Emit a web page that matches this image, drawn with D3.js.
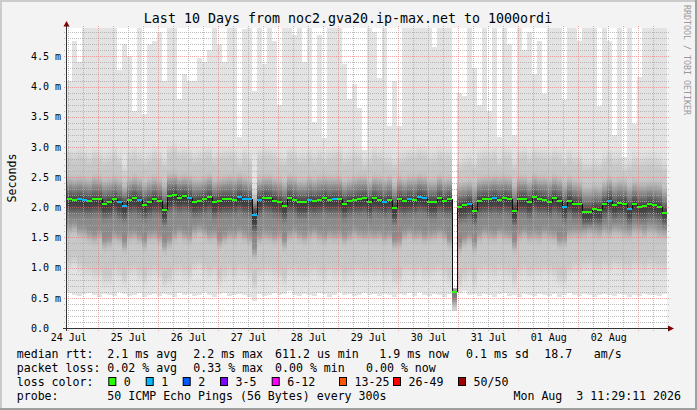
<!DOCTYPE html>
<html>
<head>
<meta charset="utf-8">
<script src="https://cdn.jsdelivr.net/npm/d3@7"></script>
<style>
  html, body { margin: 0; padding: 0; background: #f3f3f3; }
  svg { display: block; font-family: 'DejaVu Sans Mono', monospace; }
  text { white-space: pre; }
</style>
</head>
<body>
<svg id="chart" width="697" height="410"></svg>
<script>
'use strict';
// last 10 days, one column every 2 hours
const START = new Date(2026, 6, 24, 11, 29, 11);
const END = new Date(2026, 7, 3, 11, 29, 11);
const STEP = 2 * 3600 * 1000;
const Y_TOP = 4.97;

const TITLE = 'Last 10 Days from noc2.gva20.ip-max.net to 1000ordi';
const DAY_LABELS = ['24 Jul', '25 Jul', '26 Jul', '27 Jul', '28 Jul', '29 Jul', '30 Jul', '31 Jul', '01 Aug', '02 Aug'];
const Y_TICKS = [0, 0.5, 1, 1.5, 2, 2.5, 3, 3.5, 4, 4.5];
const Y_TICK_LABELS = ['0.0', '0.5 m', '1.0 m', '1.5 m', '2.0 m', '2.5 m', '3.0 m', '3.5 m', '4.0 m', '4.5 m'];

// median rtt (ms)
const MEDIAN = [
  2.13, 2.12, 2.13, 2.12, 2.10, 2.14, 2.13, 2.06, 2.09, 2.14, 2.09, 2.02,
  2.12, 2.15, 2.12, 2.04, 2.09, 2.14, 2.10, 1.95, 2.19, 2.21, 2.16, 2.18,
  2.15, 2.09, 2.10, 2.14, 2.17, 2.08, 2.11, 2.13, 2.14, 2.12, 2.17, 2.14,
  2.13, 1.88, 2.12, 2.16, 2.15, 2.11, 2.09, 2.02, 2.15, 2.12, 2.08, 2.08,
  2.12, 2.10, 2.12, 2.15, 2.12, 2.13, 2.13, 2.05, 2.10, 2.12, 2.14, 2.15,
  2.08, 2.15, 2.12, 2.09, 2.12, 1.99, 2.14, 2.10, 2.13, 2.12, 2.17, 2.15,
  2.08, 2.08, 2.15, 2.10, 2.13, 0.60, 2.01, 2.03, 2.06, 1.94, 2.11, 2.14,
  2.13, 2.15, 2.12, 2.15, 2.14, 1.94, 2.14, 2.14, 2.08, 2.17, 2.14, 2.12,
  2.09, 2.15, 2.11, 2.00, 2.11, 2.06, 2.05, 1.93, 1.93, 1.97, 1.95, 2.05,
  2.11, 2.04, 2.07, 2.06, 1.97, 2.06, 2.01, 2.02, 2.05, 2.04, 2.01, 1.91
];
// lost pings per column
const LOSS = [
  0, 0, 1, 1, 0, 0, 0, 0, 0, 0, 1, 1,
  0, 0, 1, 0, 0, 0, 0, 0, 0, 0, 0, 0,
  1, 0, 0, 0, 0, 0, 0, 0, 0, 0, 1, 1,
  1, 1, 1, 0, 0, 0, 0, 0, 0, 0, 0, 0,
  1, 0, 0, 0, 0, 1, 0, 0, 0, 0, 0, 0,
  0, 0, 0, 1, 0, 0, 0, 0, 1, 0, 1, 1,
  0, 0, 0, 0, 0, 0, 0, 0, 1, 0, 0, 0,
  0, 1, 0, 0, 0, 0, 0, 0, 0, 0, 0, 0,
  0, 0, 0, 1, 0, 0, 0, 0, 0, 0, 0, 0,
  1, 0, 0, 0, 1, 0, 0, 0, 0, 0, 0, 0
];
// smoke: fastest and slowest ping per column (ms)
const PING_MIN = [
  0.58, 0.55, 0.53, 0.56, 0.58, 0.54, 0.52, 0.57, 0.55, 0.53, 0.59, 0.56,
  0.53, 0.55, 0.58, 0.52, 0.54, 0.56, 0.53, 0.57, 0.55, 0.52, 0.58, 0.54,
  0.56, 0.53, 0.55, 0.59, 0.54, 0.52, 0.56, 0.58, 0.53, 0.55, 0.57, 0.54,
  0.52, 0.45, 0.56, 0.53, 0.55, 0.58, 0.54, 0.56, 0.61, 0.55, 0.53, 0.57,
  0.55, 0.53, 0.58, 0.56, 0.52, 0.55, 0.59, 0.54, 0.56, 0.53, 0.55, 0.58,
  0.54, 0.56, 0.53, 0.57, 0.55, 0.52, 0.56, 0.54, 0.58, 0.53, 0.59, 0.55,
  0.53, 0.56, 0.54, 0.52, 0.57, 0.28, 0.58, 0.61, 0.55, 0.57, 0.53, 0.56,
  0.54, 0.52, 0.56, 0.58, 0.53, 0.55, 0.51, 0.56, 0.54, 0.53, 0.57, 0.55,
  0.53, 0.56, 0.52, 0.55, 0.58, 0.54, 0.53, 0.56, 0.55, 0.52, 0.54, 0.57,
  0.55, 0.53, 0.56, 0.54, 0.52, 0.55, 0.53, 0.56, 0.54, 0.55, 0.53, 0.56
];
const PING_MAX = [
  4.10, 4.75, 4.40, 5, 5, 5, 5, 5, 5, 5, 4.27, 4.70,
  4.50, 3.60, 5, 3.55, 4.70, 4.75, 4.90, 4.10, 5, 5, 3.80, 4.20,
  4.10, 4.10, 4.48, 4.40, 4.60, 5, 4.70, 4.40, 5, 5, 3.16, 4.95,
  5, 3.93, 5, 4.38, 5, 4.75, 3.70, 5, 5, 4.85, 5, 4.40,
  5, 3.42, 4.85, 3.15, 5, 5, 5, 4.38, 3.80, 4.05, 3.65, 2.95,
  5, 4.90, 4.14, 5, 3.35, 4.10, 3.35, 5, 5, 5, 5, 5,
  5, 4.65, 5, 5, 5, 0.66, 3.90, 3.85, 5, 4.30, 3.70, 5,
  3.60, 5, 3.16, 5, 4.70, 3.20, 5, 4.60, 4.90, 4.20, 4.75, 3.88,
  5, 5, 5, 3.77, 5, 5, 4.75, 5, 5, 5, 3.68, 5,
  4.75, 3.20, 5, 2.83, 5, 3.38, 4.15, 5, 5, 5, 5, 5
];
// smoke: inner percentiles per column (ms)
const P08 = [
  1.05, 1.10, 1.00, 0.95, 0.92, 0.88, 0.90, 0.80, 0.82, 0.95, 0.90, 0.78,
  0.92, 0.95, 0.88, 0.80, 0.90, 0.93, 0.88, 0.75, 0.80, 0.92, 0.95, 0.90,
  0.88, 1.00, 1.02, 0.95, 0.90, 0.92, 0.80, 0.88, 0.93, 0.90, 0.95, 0.92,
  0.88, 0.70, 0.90, 0.95, 0.92, 0.90, 0.88, 0.78, 0.92, 0.95, 0.90, 0.88,
  0.92, 0.95, 0.90, 0.88, 0.93, 0.90, 0.92, 0.85, 0.90, 0.95, 0.92, 0.90,
  0.93, 0.90, 0.92, 0.88, 0.90, 0.80, 0.82, 0.92, 0.95, 0.90, 0.92, 0.88,
  0.90, 0.92, 0.95, 0.90, 0.82, 0.33, 0.75, 0.85, 0.90, 0.78, 0.92, 0.95,
  0.92, 0.90, 0.95, 0.92, 0.90, 0.76, 0.92, 0.95, 0.90, 0.93, 0.92, 0.95,
  0.92, 0.90, 0.82, 0.80, 0.95, 1.00, 0.98, 1.02, 1.05, 1.00, 0.98, 1.02,
  1.00, 1.05, 1.02, 1.00, 0.98, 1.05, 1.02, 1.00, 1.05, 1.02, 1.00, 0.98
];
const P25 = [
  1.62, 1.65, 1.58, 1.55, 1.50, 1.48, 1.52, 1.38, 1.40, 1.50, 1.48, 1.35,
  1.50, 1.52, 1.48, 1.38, 1.50, 1.52, 1.48, 1.32, 1.40, 1.50, 1.55, 1.50,
  1.48, 1.58, 1.60, 1.55, 1.50, 1.52, 1.40, 1.48, 1.52, 1.50, 1.55, 1.50,
  1.45, 1.22, 1.48, 1.52, 1.50, 1.48, 1.50, 1.38, 1.52, 1.55, 1.50, 1.48,
  1.52, 1.55, 1.50, 1.48, 1.52, 1.50, 1.52, 1.45, 1.50, 1.55, 1.52, 1.50,
  1.52, 1.50, 1.52, 1.48, 1.50, 1.38, 1.40, 1.52, 1.55, 1.50, 1.52, 1.48,
  1.50, 1.52, 1.55, 1.50, 1.40, 0.42, 1.32, 1.42, 1.48, 1.35, 1.50, 1.55,
  1.52, 1.50, 1.55, 1.52, 1.50, 1.35, 1.52, 1.55, 1.50, 1.52, 1.50, 1.55,
  1.52, 1.50, 1.40, 1.42, 1.55, 1.58, 1.56, 1.58, 1.60, 1.58, 1.56, 1.60,
  1.58, 1.62, 1.60, 1.58, 1.56, 1.62, 1.60, 1.58, 1.62, 1.60, 1.58, 1.55
];
const P42 = [
  1.92, 1.92, 1.93, 1.91, 1.90, 1.93, 1.92, 1.86, 1.88, 1.93, 1.88, 1.82,
  1.92, 1.94, 1.91, 1.84, 1.89, 1.93, 1.90, 1.76, 1.95, 1.98, 1.95, 1.97,
  1.94, 1.89, 1.90, 1.93, 1.96, 1.88, 1.90, 1.92, 1.93, 1.92, 1.96, 1.93,
  1.90, 1.62, 1.90, 1.95, 1.94, 1.91, 1.89, 1.82, 1.94, 1.92, 1.88, 1.88,
  1.92, 1.90, 1.92, 1.94, 1.92, 1.92, 1.92, 1.85, 1.90, 1.92, 1.93, 1.94,
  1.88, 1.94, 1.92, 1.89, 1.92, 1.78, 1.92, 1.90, 1.92, 1.92, 1.96, 1.94,
  1.88, 1.88, 1.94, 1.90, 1.90, 0.52, 1.80, 1.83, 1.86, 1.76, 1.91, 1.93,
  1.92, 1.94, 1.92, 1.94, 1.93, 1.74, 1.93, 1.93, 1.88, 1.96, 1.93, 1.92,
  1.89, 1.94, 1.90, 1.80, 1.91, 1.86, 1.85, 1.74, 1.74, 1.78, 1.76, 1.85,
  1.91, 1.84, 1.87, 1.86, 1.78, 1.86, 1.82, 1.83, 1.85, 1.84, 1.82, 1.74
];
const P58 = [
  2.25, 2.24, 2.25, 2.24, 2.22, 2.26, 2.25, 2.19, 2.21, 2.26, 2.21, 2.15,
  2.24, 2.27, 2.24, 2.17, 2.21, 2.26, 2.22, 2.10, 2.31, 2.33, 2.28, 2.30,
  2.27, 2.21, 2.22, 2.26, 2.29, 2.20, 2.23, 2.25, 2.26, 2.24, 2.29, 2.26,
  2.24, 2.02, 2.24, 2.28, 2.27, 2.23, 2.21, 2.15, 2.27, 2.24, 2.20, 2.20,
  2.24, 2.22, 2.24, 2.27, 2.24, 2.25, 2.25, 2.18, 2.22, 2.24, 2.26, 2.27,
  2.20, 2.27, 2.24, 2.21, 2.24, 2.12, 2.26, 2.22, 2.25, 2.24, 2.29, 2.27,
  2.20, 2.20, 2.27, 2.22, 2.25, 0.62, 2.14, 2.16, 2.18, 2.08, 2.23, 2.26,
  2.25, 2.27, 2.24, 2.27, 2.26, 2.08, 2.26, 2.26, 2.20, 2.29, 2.26, 2.24,
  2.21, 2.27, 2.23, 2.13, 2.23, 2.18, 2.17, 2.06, 2.06, 2.10, 2.08, 2.17,
  2.23, 2.16, 2.19, 2.18, 2.10, 2.18, 2.13, 2.14, 2.17, 2.16, 2.13, 2.04
];
const P75 = [
  2.44, 2.42, 2.44, 2.42, 2.40, 2.45, 2.43, 2.38, 2.40, 2.44, 2.40, 2.30,
  2.42, 2.45, 2.42, 2.36, 2.40, 2.44, 2.41, 2.32, 2.48, 2.50, 2.46, 2.47,
  2.45, 2.40, 2.41, 2.44, 2.47, 2.39, 2.42, 2.44, 2.45, 2.43, 2.47, 2.44,
  2.40, 2.10, 2.42, 2.46, 2.45, 2.42, 2.40, 2.35, 2.45, 2.43, 2.39, 2.39,
  2.43, 2.41, 2.43, 2.45, 2.43, 2.44, 2.44, 2.37, 2.41, 2.43, 2.45, 2.46,
  2.39, 2.45, 2.43, 2.40, 2.43, 2.32, 2.44, 2.41, 2.44, 2.43, 2.47, 2.45,
  2.39, 2.39, 2.45, 2.41, 2.42, 0.64, 2.33, 2.35, 2.37, 2.30, 2.42, 2.44,
  2.44, 2.45, 2.43, 2.45, 2.44, 2.30, 2.44, 2.44, 2.39, 2.47, 2.44, 2.43,
  2.40, 2.45, 2.42, 2.33, 2.42, 2.37, 2.36, 2.27, 2.27, 2.30, 2.28, 2.36,
  2.42, 2.35, 2.38, 2.37, 2.30, 2.37, 2.33, 2.34, 2.36, 2.35, 2.33, 2.26
];
const P92 = [
  2.88, 2.85, 2.90, 2.86, 2.82, 2.88, 2.85, 2.80, 2.84, 2.90, 2.82, 2.62,
  2.86, 2.90, 2.85, 2.78, 2.84, 2.90, 2.85, 2.75, 2.95, 2.98, 2.90, 2.92,
  2.88, 2.82, 2.85, 2.90, 2.92, 2.82, 2.86, 2.88, 2.90, 2.86, 2.78, 2.88,
  2.82, 2.25, 2.86, 2.92, 2.90, 2.86, 2.80, 2.78, 2.90, 2.88, 2.82, 2.84,
  2.88, 2.82, 2.88, 2.80, 2.86, 2.88, 2.90, 2.80, 2.84, 2.88, 2.86, 2.75,
  2.82, 2.90, 2.86, 2.82, 2.80, 2.74, 2.82, 2.85, 2.88, 2.86, 2.92, 2.90,
  2.82, 2.84, 2.90, 2.85, 2.86, 0.65, 2.72, 2.76, 2.80, 2.72, 2.85, 2.88,
  2.85, 2.90, 2.78, 2.90, 2.88, 2.72, 2.88, 2.90, 2.84, 2.92, 2.88, 2.86,
  2.84, 2.90, 2.86, 2.76, 2.86, 2.80, 2.80, 2.70, 2.70, 2.74, 2.72, 2.80,
  2.86, 2.78, 2.82, 2.65, 2.74, 2.80, 2.76, 2.78, 2.80, 2.78, 2.76, 2.70
];

const LOSS_LABELS = ['0', '1', '2', '3-5', '6-12', '13-25', '26-49', '50/50'];
const LOSS_COLORS = ['#26ff00', '#00b8ff', '#0059ff', '#7e00ff', '#ff00ff', '#ff5500', '#ff0000', '#a10000'];

const RTT_LEGEND = ['median rtt:', '2.1 ms avg', '2.2 ms max', '611.2 us min', '1.9 ms now', '0.1 ms sd', '18.7', 'am/s'];
const LOSS_LEGEND = ['packet loss:', '0.02 % avg', '0.33 % max', '0.00 % min', '0.00 % now'];
const PROBE_LEGEND = ['probe:', '50 ICMP Echo Pings (56 Bytes) every 300s'];
const STAMP = 'Mon Aug  3 11:29:11 2026';

const SMOKE_OUTER = '#e3e3e3';
const SMOKE_SHADES = ['#c8c8c8', '#8a8a8a', '#3a3a3a'];
const MONO = 'DejaVu Sans Mono';

document.addEventListener('DOMContentLoaded', drawChart, false);

function drawChart() {
  let svg = d3.select('#chart');
  let x = d3.scaleTime().domain([START, END]).range([67, 667]);
  let y = d3.scaleLinear().domain([0, Y_TOP]).range([328, 28]);
  let colX = (i) => x(new Date(START.getTime() + i * STEP));
  let colW = (i) => colX(i + 1) - colX(i);
  let yc = (v) => y(Math.min(v, Y_TOP));

  // frame
  svg.append('rect').attr('width', 697).attr('height', 410).attr('fill', '#f3f3f3');
  svg.append('rect').attr('width', 697).attr('height', 2).attr('fill', '#cbcbcb');
  svg.append('rect').attr('width', 2).attr('height', 410).attr('fill', '#cbcbcb');
  svg.append('rect').attr('y', 408).attr('width', 697).attr('height', 2).attr('fill', '#9f9f9f');
  svg.append('rect').attr('x', 695).attr('width', 2).attr('height', 410).attr('fill', '#9f9f9f');
  svg.append('rect')
    .attr('x', 67).attr('y', 28).attr('width', 600).attr('height', 300)
    .attr('fill', '#ffffff');

  let defs = svg.append('defs');
  defs.append('filter')
    .attr('id', 'vblur')
    .attr('x', 0).attr('y', -0.2).attr('width', 1).attr('height', 1.4)
    .append('feGaussianBlur')
    .attr('stdDeviation', '0 5');
  defs.append('clipPath')
    .attr('id', 'smokeclip')
    .selectAll('rect')
    .data(MEDIAN)
    .join('rect')
    .attr('x', (d, i) => colX(i))
    .attr('width', (d, i) => colW(i))
    .attr('y', (d, i) => yc(PING_MAX[i]))
    .attr('height', (d, i) => y(PING_MIN[i]) - yc(PING_MAX[i]));

  // smoke, outer range
  svg.append('g')
    .attr('shape-rendering', 'crispEdges')
    .selectAll('rect')
    .data(MEDIAN)
    .join('rect')
    .attr('x', (d, i) => colX(i))
    .attr('width', (d, i) => colW(i))
    .attr('y', (d, i) => yc(PING_MAX[i]))
    .attr('height', (d, i) => y(PING_MIN[i]) - yc(PING_MAX[i]))
    .attr('fill', SMOKE_OUTER);

  // smoke, inner percentile bands
  let bands = [[P08, P92], [P25, P75], [P42, P58]];
  let inner = svg.append('g')
    .attr('clip-path', 'url(#smokeclip)')
    .append('g')
    .attr('filter', 'url(#vblur)');
  bands.forEach(([lo, hi], k) => {
    inner.append('g')
      .attr('shape-rendering', 'crispEdges')
      .selectAll('rect')
      .data(MEDIAN)
      .join('rect')
      .attr('x', (d, i) => colX(i))
      .attr('width', (d, i) => colW(i))
      .attr('y', (d, i) => yc(hi[i]))
      .attr('height', (d, i) => y(lo[i]) - yc(hi[i]))
      .attr('fill', SMOKE_SHADES[k]);
  });

  // grid
  let grid = svg.append('g').attr('shape-rendering', 'crispEdges');
  let px = (v) => Math.round(v) + 0.5;
  let midnights = d3.timeDay.range(START, END);
  let sixHours = d3.timeHour.every(6).range(START, END)
    .filter((d) => d.getHours() !== 0);
  let minorY = d3.range(1, 50).filter((k) => k % 5 !== 0).map((k) => k / 10);
  let majorY = Y_TICKS.filter((v) => v > 0);
  let gridStyle = [
    { xs: sixHours, ys: minorY, color: 'rgba(170,170,170,0.8)' },
    { xs: midnights, ys: majorY, color: 'rgba(235,110,110,0.6)' },
  ];
  gridStyle.forEach((s) => {
    grid.append('g').selectAll('line')
      .data(s.ys)
      .join('line')
      .attr('x1', 64).attr('x2', 670)
      .attr('y1', (d) => px(y(d))).attr('y2', (d) => px(y(d)))
      .attr('stroke', s.color)
      .attr('stroke-dasharray', '1,1');
    grid.append('g').selectAll('line')
      .data(s.xs)
      .join('line')
      .attr('x1', (d) => px(x(d))).attr('x2', (d) => px(x(d)))
      .attr('y1', 331).attr('y2', 26)
      .attr('stroke', s.color)
      .attr('stroke-dasharray', '1,1');
  });

  // median line
  let med = svg.append('g');
  med.append('g')
    .selectAll('line')
    .data(MEDIAN.slice(1))
    .join('line')
    .attr('x1', (d, i) => Math.round(colX(i + 1)) + 0.5)
    .attr('x2', (d, i) => Math.round(colX(i + 1)) + 0.5)
    .attr('y1', (d, i) => Math.round(y(MEDIAN[i])))
    .attr('y2', (d) => Math.round(y(d)))
    .attr('stroke', '#111')
    .attr('stroke-width', 1);
  med.append('g')
    .attr('shape-rendering', 'crispEdges')
    .selectAll('rect')
    .data(MEDIAN)
    .join('rect')
    .attr('x', (d, i) => colX(i))
    .attr('width', (d, i) => colW(i))
    .attr('y', (d) => Math.round(y(d)) - 1)
    .attr('height', 2)
    .attr('fill', (d, i) => LOSS_COLORS[LOSS[i]]);

  // axes
  svg.append('line')
    .attr('x1', 66.5).attr('x2', 66.5).attr('y1', 331).attr('y2', 25)
    .attr('stroke', '#333');
  svg.append('line')
    .attr('x1', 63).attr('x2', 670).attr('y1', 328.5).attr('y2', 328.5)
    .attr('stroke', '#333');
  svg.append('path').attr('d', 'M63.5,26.5L69.5,26.5L66.5,21Z').attr('fill', '#7f0000');
  svg.append('path').attr('d', 'M668,325.5L668,331.5L674,328.5Z').attr('fill', '#7f0000');

  let yAxis = (g) =>
    g
      .call(d3.axisLeft(y).tickValues(Y_TICKS).tickSize(0)
        .tickFormat((d, i) => Y_TICK_LABELS[i]))
      .call((g) => g.select('.domain').remove())
      .call((g) =>
        g.selectAll('.tick text')
          .attr('text-anchor', 'start')
          .attr('x', -36)
          .attr('fill', '#000')
      );
  svg.append('g')
    .attr('transform', 'translate(67,0)')
    .call(yAxis)
    .attr('font-family', MONO)
    .attr('font-size', 10);

  let noons = d3.timeDay.range(d3.timeDay.floor(START), END)
    .map((d) => d3.timeHour.offset(d, 12))
    .filter((d) => d < END);
  let xAxis = (g) =>
    g
      .call(d3.axisBottom(x).tickValues(noons).tickSize(0).tickPadding(5.5)
        .tickFormat((d, i) => DAY_LABELS[i]))
      .call((g) => g.select('.domain').remove())
      .call((g) => g.selectAll('.tick text').attr('fill', '#000'));
  svg.append('g')
    .attr('transform', 'translate(0,328)')
    .call(xAxis)
    .attr('font-family', MONO)
    .attr('font-size', 10);

  // titles
  svg.append('text')
    .attr('x', 348).attr('y', 23)
    .attr('text-anchor', 'middle')
    .attr('font-size', 13.3)
    .text(TITLE);
  svg.append('text')
    .attr('transform', 'translate(16,178) rotate(-90)')
    .attr('text-anchor', 'middle')
    .attr('font-size', 11.6)
    .text('Seconds');
  svg.append('text')
    .attr('transform', 'translate(683.5,5) rotate(90)')
    .attr('font-size', 8.3)
    .attr('fill', '#999')
    .text('RRDTOOL / TOBI OETIKER');

  // legend
  let legend = svg.append('g').attr('font-size', 11.6);
  let rows = [
    { y: 357.5, items: RTT_LEGEND, xs: [16.7, 107.3, 193.3, 275, 379.3, 466, 544.3, 593.7] },
    { y: 371.8, items: LOSS_LEGEND, xs: [16.7, 107.3, 193.3, 275, 366] },
    { y: 400.2, items: PROBE_LEGEND, xs: [16.7, 107.3] },
  ];
  rows.forEach((row) => {
    legend.append('g').selectAll('text')
      .data(row.items)
      .join('text')
      .attr('x', (d, i) => row.xs[i])
      .attr('y', row.y)
      .text((d) => d);
  });
  legend.append('text').attr('x', 16.7).attr('y', 386).text('loss color:');
  let boxX = [108.3, 145.7, 182.7, 220, 271.7, 339, 393, 458];
  let lossItems = legend.append('g').selectAll('g')
    .data(LOSS_LABELS)
    .join('g')
    .attr('transform', (d, i) => `translate(${boxX[i]},0)`);
  lossItems.append('rect')
    .attr('x', 0.5).attr('y', 377.5).attr('width', 7).attr('height', 8)
    .attr('fill', (d, i) => LOSS_COLORS[i])
    .attr('stroke', '#000');
  lossItems.append('text')
    .attr('x', 15.5).attr('y', 386)
    .text((d) => d);
  legend.append('text')
    .attr('x', 681).attr('y', 400.2)
    .attr('text-anchor', 'end')
    .text(STAMP);
}
</script>
</body>
</html>
